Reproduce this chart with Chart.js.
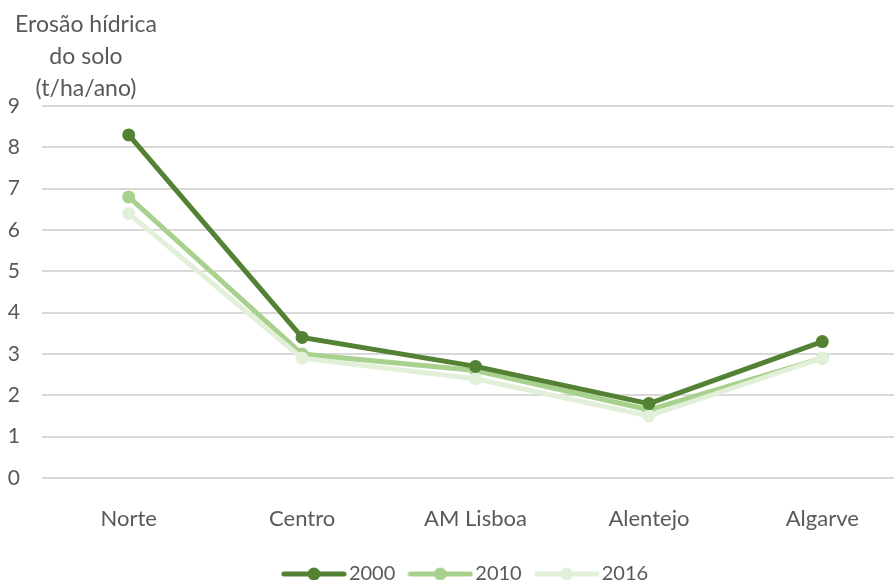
<!DOCTYPE html>
<html>
<head>
<meta charset="utf-8">
<script src="https://cdn.jsdelivr.net/npm/chart.js@4/dist/chart.umd.min.js"></script>
<style>
  html, body { margin: 0; padding: 0; background: #fff; overflow: hidden; }
  #wrap { width: 894px; height: 580px; overflow: hidden; }
</style>
</head>
<body>
<div id="wrap"><canvas id="erosao" width="937" height="580"></canvas></div>
<script>
const regions = ["Norte", "Centro", "AM Lisboa", "Alentejo", "Algarve"];
const years = ["2000", "2010", "2016"];
const erosao2000 = [8.3, 3.4, 2.7, 1.8, 3.3];
const erosao2010 = [6.8, 3.0, 2.6, 1.65, 2.9];
const erosao2016 = [6.4, 2.9, 2.4, 1.5, 2.9];
const titleLines = ["Erosão hídrica", "do solo", "(t/ha/ano)"];

const colors = ["#548235", "#A9D18E", "#E2F0D9"];
const font = "Lato";

// little line + dot sample for the legend
function legendSample(color) {
    const c = document.createElement("canvas");
    c.width = 66;
    c.height = 16;
    const ctx = c.getContext("2d");
    ctx.strokeStyle = color;
    ctx.lineWidth = 5;
    ctx.lineCap = "round";
    ctx.beginPath();
    ctx.moveTo(3, 8);
    ctx.lineTo(63, 8);
    ctx.stroke();
    ctx.fillStyle = color;
    ctx.beginPath();
    ctx.arc(33, 8, 6.5, 0, Math.PI * 2);
    ctx.fill();
    return c;
}
const samples = colors.map(legendSample);

const titlePlugin = {
    id: "axisTitle",
    afterLayout(chart) {
        // excel centres the legend a bit right of ours
        chart.legend.left += 14;
        chart.legend.right += 14;
    },
    afterDraw(chart) {
        const ctx = chart.ctx;
        ctx.save();
        ctx.fillStyle = "#595959";
        ctx.font = "23px " + font;
        ctx.textAlign = "center";
        ctx.textBaseline = "alphabetic";
        titleLines.forEach((line, i) => {
            ctx.fillText(line, 86, 32 + i * 32);
        });
        ctx.restore();
    },
};

const series = [erosao2000, erosao2010, erosao2016];
const drawOrder = [0, 2, 1]; // 2016 sits above 2010, 2000 on top

const data = {
    labels: regions,
    datasets: series.map((values, i) => ({
        label: years[i],
        data: values,
        borderColor: colors[i],
        backgroundColor: colors[i],
        borderWidth: 5,
        pointRadius: 6.5,
        pointHoverRadius: 6.5,
        pointBorderWidth: 0,
        tension: 0,
        order: drawOrder[i],
    })),
};

const config = {
    type: "line",
    data: data,
    plugins: [titlePlugin],
    options: {
        responsive: false,
        animation: false,
        layout: { padding: { top: 106, right: 28, left: 0, bottom: -14 } },
        scales: {
            x: {
                offset: true,
                grid: { display: false, offset: true },
                border: { display: false },
                ticks: { color: "#595959", font: { family: font, size: 22 }, padding: 20 },
                afterFit: (scale) => { scale.height = 66; },
            },
            y: {
                min: 0,
                max: 9,
                ticks: { stepSize: 1, color: "#595959", font: { family: font, size: 21 }, padding: 22 },
                grid: { color: "#D9D9D9", lineWidth: 2, drawTicks: false },
                border: { display: false },
                afterFit: (scale) => { scale.width = 42; },
            },
        },
        plugins: {
            tooltip: { enabled: false },
            legend: {
                position: "bottom",
                labels: {
                    usePointStyle: true,
                    pointStyleWidth: 50,
                    padding: 20,
                    color: "#595959",
                    font: { family: font, size: 20 },
                    sort: (a, b) => a.datasetIndex - b.datasetIndex,
                    generateLabels(chart) {
                        const items = Chart.defaults.plugins.legend.labels.generateLabels(chart);
                        items.forEach((item) => { item.pointStyle = samples[item.datasetIndex]; });
                        return items;
                    },
                },
            },
        },
    },
};

const chart = new Chart(document.getElementById("erosao").getContext("2d"), config);
</script>
</body>
</html>
